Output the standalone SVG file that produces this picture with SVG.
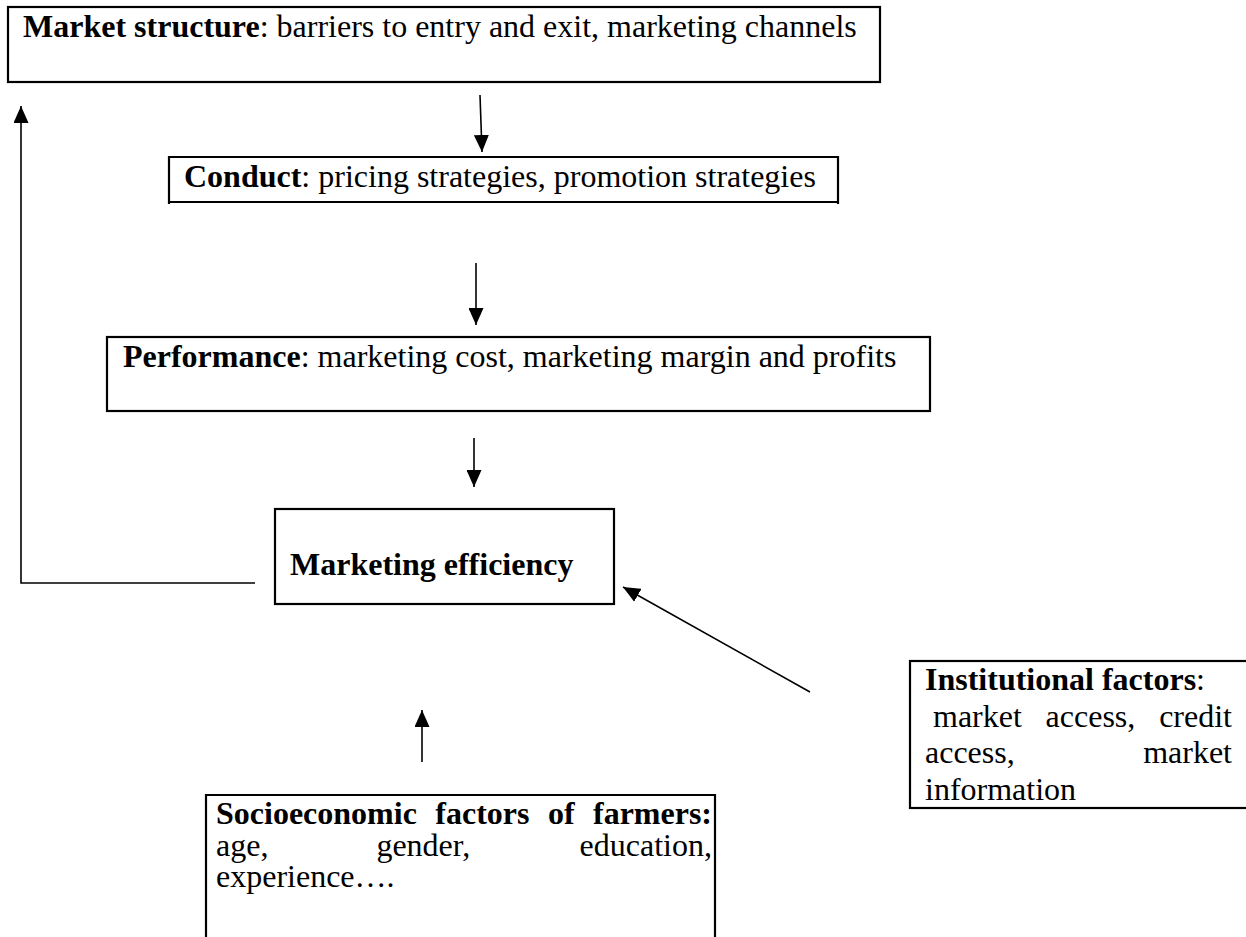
<svg xmlns="http://www.w3.org/2000/svg" width="1246" height="937" viewBox="0 0 1246 937">
<style>
  text { font-family: "Liberation Serif", "Times New Roman", serif; font-size: 32px; fill: #000; }
  .b { font-weight: bold; }
  .e { text-anchor: end; }
  .box { fill: none; stroke: #000; stroke-width: 2.2; }
  .conn { fill: none; stroke: #000; stroke-width: 1.6; }
</style>
<defs>
  <marker id="ah" markerUnits="userSpaceOnUse" markerWidth="17" markerHeight="15" refX="17" refY="7.5" orient="auto">
    <path d="M0,0 L17,7.5 L0,15 Z" fill="#000"/>
  </marker>
</defs>
<rect width="1246" height="937" fill="#fff"/>

<g id="market-structure">
  <rect class="box" x="8" y="7" width="872" height="75"/>
  <text x="23" y="37"><tspan class="b">Market structure</tspan>: barriers to entry and exit, marketing channels</text>
</g>

<g id="conduct">
  <path class="box" d="M169,204 V157 H838 V204 M169,202 H838"/>
  <text x="184" y="187"><tspan class="b">Conduct</tspan>: pricing strategies, promotion strategies</text>
</g>

<g id="performance">
  <rect class="box" x="107" y="337" width="823" height="74"/>
  <text x="123" y="367"><tspan class="b">Performance</tspan>: marketing cost, marketing margin and profits</text>
</g>

<g id="marketing-efficiency">
  <rect class="box" x="275" y="509" width="339" height="95"/>
  <text class="b" x="290" y="575">Marketing efficiency</text>
</g>

<g id="institutional-factors">
  <rect class="box" x="910" y="661" width="345" height="147"/>
  <text x="925" y="690"><tspan class="b">Institutional factors</tspan>:</text>
  <text x="933" y="727">market</text>
  <text x="1045.6" y="727">access,</text>
  <text class="e" x="1232" y="727">credit</text>
  <text x="925" y="763">access,</text>
  <text class="e" x="1232" y="763">market</text>
  <text x="925" y="800">information</text>
</g>

<g id="socioeconomic-factors">
  <path class="box" d="M206,940 V795 H715 V940"/>
  <text class="b" x="216" y="824">Socioeconomic</text>
  <text class="b" x="435.3" y="824">factors</text>
  <text class="b" x="547.9" y="824">of</text>
  <text class="b e" x="712" y="824">farmers:</text>
  <text x="216" y="856">age,</text>
  <text x="376.4" y="856">gender,</text>
  <text class="e" x="712" y="856">education,</text>
  <text x="216" y="887">experience….</text>
</g>

<g id="connectors">
  <line class="conn" x1="480" y1="95" x2="482" y2="152" marker-end="url(#ah)"/>
  <line class="conn" x1="476" y1="263" x2="476" y2="325" marker-end="url(#ah)"/>
  <line class="conn" x1="474" y1="438" x2="474" y2="487" marker-end="url(#ah)"/>
  <polyline class="conn" points="255,583 21,583 21,106" marker-end="url(#ah)"/>
  <line class="conn" x1="810" y1="692" x2="623" y2="587" marker-end="url(#ah)"/>
  <line class="conn" x1="422" y1="762" x2="422" y2="710" marker-end="url(#ah)"/>
</g>
</svg>
